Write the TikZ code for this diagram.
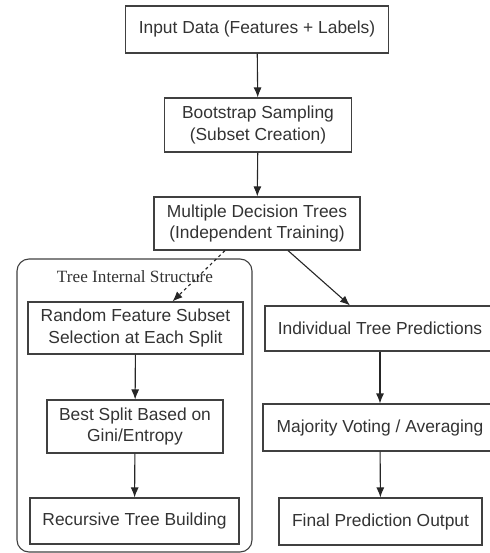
\documentclass[tikz,border=0pt]{standalone}
\usepackage{fontspec}
\setmainfont{Liberation Sans}
\newfontfamily\capfont{Liberation Serif}
\usetikzlibrary{arrows.meta}

\begin{document}
\begin{tikzpicture}[x=1pt, y=-1pt,
      every node/.style = {font=\fontsize{17.4}{21.5}\selectfont, text=black!80},
      box/.style = {shape=rectangle, draw=black!75, line width=1.1pt,
        align=center, inner sep=0pt},
      flow/.style = {draw=black!85, line width=1.1pt,
        -{Latex[length=10pt,width=8pt]}}]
      \useasboundingbox (0,0) rectangle (489,553);
      % main column
      \node[box, minimum width=263pt, minimum height=47pt] (input) at (257,29.5)
        {Input Data (Features + Labels)};
      \node[box, minimum width=187pt, minimum height=54pt] (boot) at (258,125)
        {Bootstrap Sampling\\(Subset Creation)};
      \node[box, minimum width=206pt, minimum height=53pt] (multi) at (257,223.5)
        {Multiple Decision Trees\\(Independent Training)};
      % tree internals
      \draw[draw=black!75, line width=1.1pt, rounded corners=12pt]
        (17,259) rectangle (252,552);
      \node[font=\capfont\fontsize{17.2}{20}\selectfont] (cap) at (135,277)
        {Tree Internal Structure};
      \node[box, minimum width=215pt, minimum height=52pt] (rand) at (135.5,328)
        {Random Feature Subset\\Selection at Each Split};
      \node[box, minimum width=176pt, minimum height=53pt] (best) at (135,426.5)
        {Best Split Based on\\Gini/Entropy};
      \node[box, minimum width=209pt, minimum height=46pt] (rec) at (134.5,521)
        {Recursive Tree Building};
      % ensemble side
      \node[box, minimum width=230pt, minimum height=45pt] (indiv) at (380,328.5)
        {Individual Tree Predictions};
      \node[box, minimum width=234pt, minimum height=47pt] (major) at (380,427.5)
        {Majority Voting / Averaging};
      \node[box, minimum width=203pt, minimum height=47pt] (final) at (380.5,521.5)
        {Final Prediction Output};
      % arrows
      \draw[flow] (input) -- (boot);
      \draw[flow] (boot) -- (multi);
      \draw[flow, dashed] ([xshift=-32pt]multi.south) -- ([xshift=37pt]rand.north);
      \draw[flow] ([xshift=31pt]multi.south) -- ([xshift=-30pt]indiv.north);
      \draw[flow] (rand) -- (best);
      \draw[flow] (best) -- (rec);
      \draw[flow] (indiv) -- (major);
      \draw[flow] (major) -- (final);
  \end{tikzpicture}
\end{document}
